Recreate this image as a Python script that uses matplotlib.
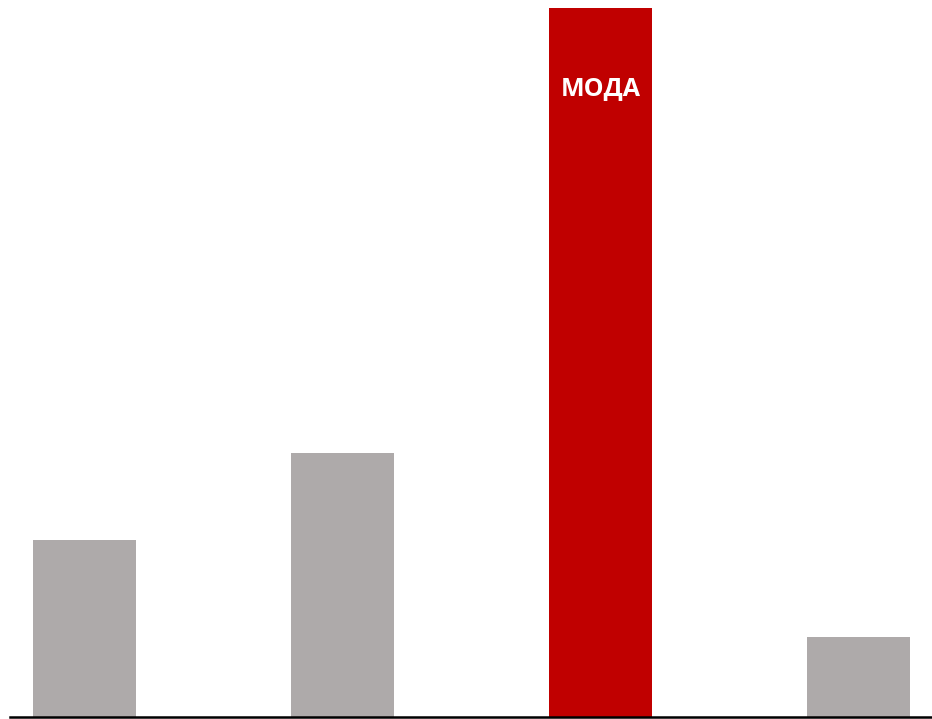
import matplotlib
matplotlib.use("Agg")
import matplotlib.pyplot as plt

# ── Data ──────────────────────────────────────────────────────────────────────
categories = ["A", "B", "C", "D"]
values = [2.0, 2.98, 8.0, 0.9]
colors = ["#AEAAAA", "#AEAAAA", "#C00000", "#AEAAAA"]
mode_label = "МОДА"

# ── Figure ────────────────────────────────────────────────────────────────────
fig = plt.figure(figsize=(9.32, 7.19), dpi=100)
ax = fig.add_axes([10 / 932, 2 / 719, 922 / 932, 717 / 719])

x = list(range(len(categories)))
ax.bar(x, values, width=0.4, color=colors, zorder=2)

mode_idx = values.index(max(values))
ax.text(x[mode_idx], values[mode_idx] * 0.887, mode_label, ha="center", va="center",
        color="white", fontsize=18, fontweight="bold", family=["Open Sans", "DejaVu Sans"])

ax.set_xlim(-0.29, 3.285)
ax.set_ylim(0, 8.09)

for s in ["top", "right", "left"]:
    ax.spines[s].set_visible(False)
ax.spines["bottom"].set_color("black")
ax.spines["bottom"].set_linewidth(1.8)
ax.set_xticks([])
ax.set_yticks([])

fig.savefig("out.png", dpi=100, facecolor="white")
